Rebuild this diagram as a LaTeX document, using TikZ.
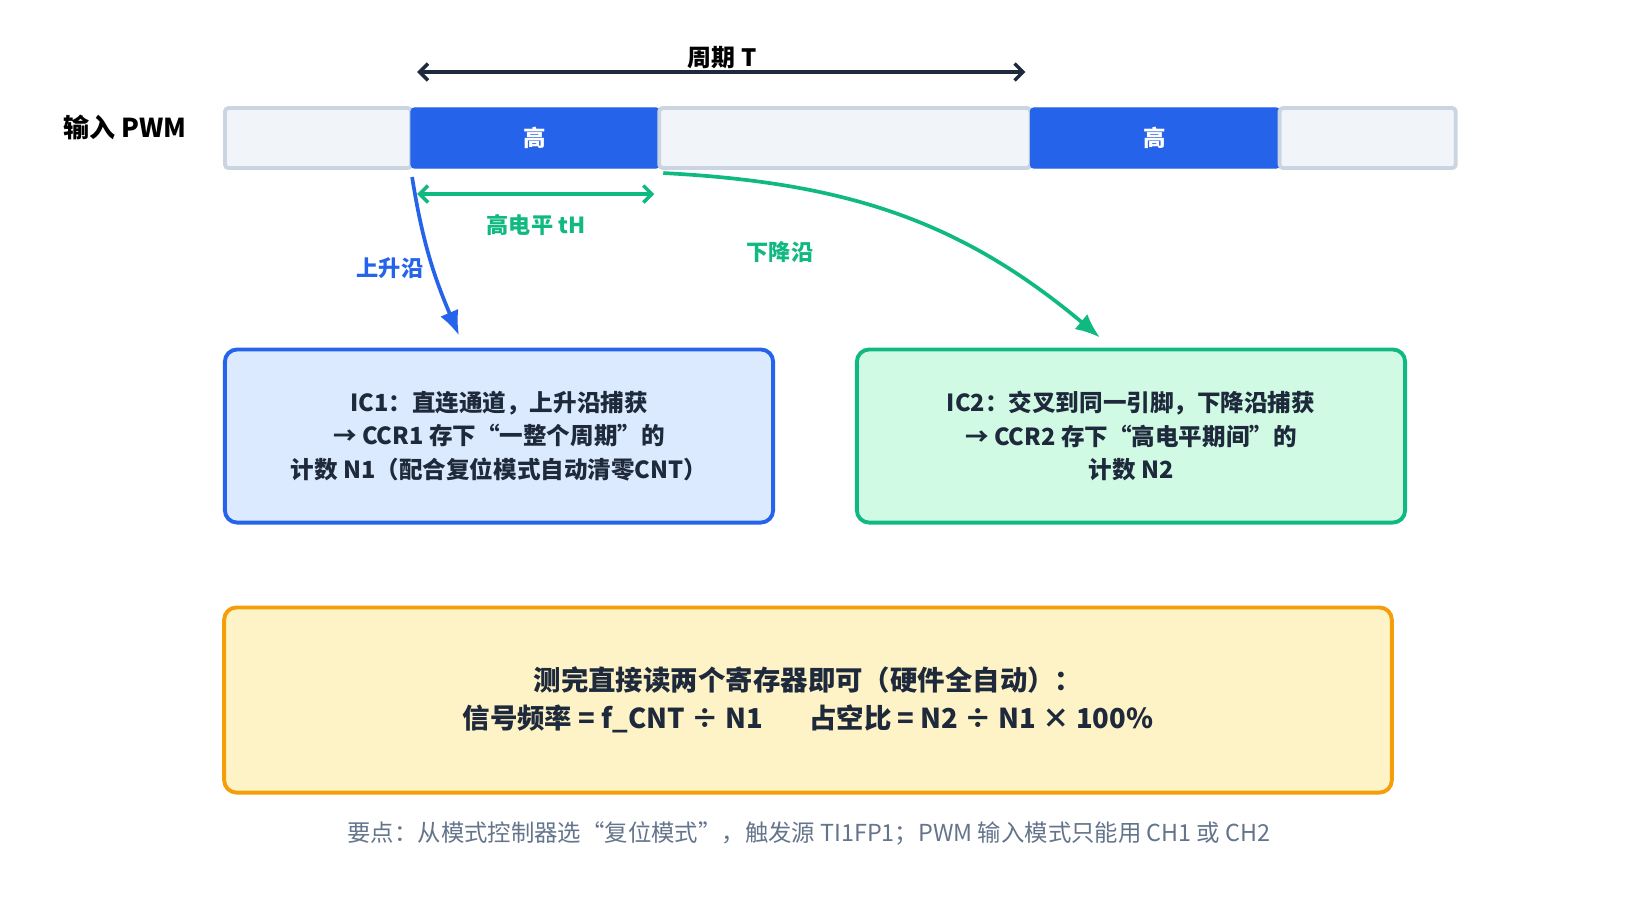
\documentclass[tikz,border=0pt]{standalone}
\usepackage{fontspec}
\setmainfont{Noto Sans CJK SC}
\usetikzlibrary{arrows.meta,positioning}

\definecolor{hiblue}{HTML}{2563EB}
\definecolor{bluefill}{HTML}{DBEAFE}
\definecolor{edgegreen}{HTML}{10B981}
\definecolor{greenfill}{HTML}{D1FAE5}
\definecolor{sumorange}{HTML}{F59E0B}
\definecolor{sumfill}{HTML}{FEF3C7}
\definecolor{segline}{HTML}{CBD5E1}
\definecolor{segfill}{HTML}{F1F5F9}
\definecolor{ink}{HTML}{1E293B}
\definecolor{notegray}{HTML}{64748B}

\begin{document}
\begin{tikzpicture}[x=0.01cm, y=0.01cm,
  lowseg/.style={draw=segline, line width=1.1pt, fill=segfill, rounded corners=1pt,
    minimum height=0.6cm, inner sep=0pt, outer sep=0pt},
  highseg/.style={draw=hiblue, fill=hiblue, rounded corners=1pt, minimum height=0.6cm,
    inner sep=0pt, outer sep=0pt, text=white, font=\bfseries\fontsize{6.4}{8}\selectfont},
  infobox/.style={rounded corners=3.5pt, line width=1.1pt, minimum width=5.48cm,
    minimum height=1.73cm, align=center, text=ink,
    font=\bfseries\fontsize{6.7}{9.6}\selectfont},
  spanarrow/.style={{Straight Barb[length=2.4pt,width=4.8pt]}-{Straight Barb[length=2.4pt,width=4.8pt]}, line width=1pt},
  edgearrow/.style={-{Latex[length=7pt,width=5.6pt]}, line width=1.05pt},
  edgelabel/.style={font=\bfseries\fontsize{6.3}{8}\selectfont}]
\useasboundingbox (0,0) rectangle (1630,-917);

% input signal
\node[font=\bfseries\fontsize{7.4}{9}\selectfont, text=black] (pwmlabel) at (125,-127) {输入 PWM};
\node[lowseg, minimum width=1.86cm, anchor=west] (lo1) at (225,-138) {};
\node[highseg, minimum width=2.48cm, right=0pt of lo1] (hi1) {高};
\node[lowseg, minimum width=3.71cm, right=0pt of hi1] (lo2) {};
\node[highseg, minimum width=2.49cm, right=0pt of lo2] (hi2) {高};
\node[lowseg, minimum width=1.76cm, right=0pt of hi2] (lo3) {};

% period and high time
\coordinate (tL) at ([shift={(6,36)}]hi1.north west);
\coordinate (tR) at ([shift={(-5,36)}]hi2.north west);
\draw[spanarrow, ink] (tL) -- (tR);
\node[font=\bfseries\fontsize{6.8}{8}\selectfont, text=black] (tlabel) at (722,-58) {周期 T};

\coordinate (hL) at ([shift={(6,-26)}]hi1.south west);
\coordinate (hR) at ([shift={(-5,-26)}]hi1.south east);
\draw[spanarrow, edgegreen] (hL) -- (hR);
\node[edgelabel, text=edgegreen] (thlabel) at (536,-225) {高电平 tH};

% capture channels
\node[infobox, draw=hiblue, fill=bluefill] (ic1) at (499,-436)
  {IC1：直连通道，上升沿捕获\\→ CCR1 存下“一整个周期”的\\计数 N1（配合复位模式自动清零CNT）};
\node[infobox, draw=edgegreen, fill=greenfill] (ic2) at (1131,-436)
  {IC2：交叉到同一引脚，下降沿捕获\\→ CCR2 存下“高电平期间”的\\计数 N2};

\draw[edgearrow, hiblue] ([shift={(1,-9)}]hi1.south west) to[out=-81, in=113] ([shift={(-40,12)}]ic1.north);
\node[edgelabel, text=hiblue] (riselabel) at (390,-268) {上升沿};
\draw[edgearrow, edgegreen] ([shift={(4,-5)}]hi1.south east) to[out=-3, in=140] ([shift={(-31,10)}]ic2.north);
\node[edgelabel, text=edgegreen] (falllabel) at (780,-252) {下降沿};

% result
\node[infobox, draw=sumorange, fill=sumfill, minimum width=11.67cm, minimum height=1.85cm,
  font=\bfseries\fontsize{7.8}{10.8}\selectfont] (result) at (808,-700)
  {测完直接读两个寄存器即可（硬件全自动）：\\信号频率 = f\_CNT ÷ N1\hspace{1.7em}占空比 = N2 ÷ N1 × 100\%};
\node[font=\fontsize{6.65}{8}\selectfont, text=notegray] (note) at (809,-833)
  {要点：从模式控制器选“复位模式”，触发源 TI1FP1；PWM 输入模式只能用 CH1 或 CH2};
\end{tikzpicture}
\end{document}
